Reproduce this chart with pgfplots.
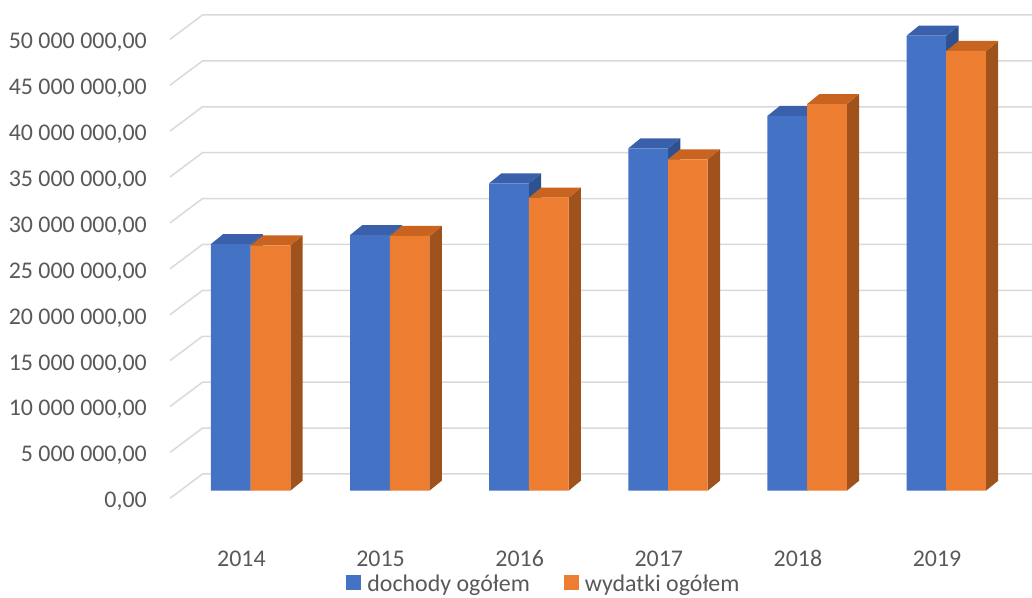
\documentclass[border=0pt]{standalone}
\usepackage{fontspec}
\setmainfont{Carlito}
\usepackage{pgfplots}
\usepackage{pgfplotstable}
\pgfplotsset{compat=1.18}

\definecolor{blueF}{HTML}{4472C4}
\definecolor{blueT}{HTML}{3A60AC}
\definecolor{blueS}{HTML}{2E5190}
\definecolor{orangeF}{HTML}{ED7D31}
\definecolor{orangeT}{HTML}{C8641F}
\definecolor{orangeS}{HTML}{A0521C}
\definecolor{gridc}{HTML}{D9D9D9}
\definecolor{txt}{HTML}{595959}

% values in millions
\pgfplotstableread{
x a b
0 26.87 26.73
1 27.85 27.75
2 33.49 31.92
3 37.30 36.10
4 40.82 42.12
5 49.56 47.90
}\data

\begin{document}
\begin{tikzpicture}
\begin{axis}[
  at={(181.1bp,107.3bp)}, anchor=south west,
  scale only axis, width=834.7bp, height=459bp,
  xmin=-0.5, xmax=5.5, ymin=0, ymax=50,
  clip=false,
  axis line style={draw=none}, major tick length=0pt,
  xtick={0,...,5}, xticklabels={2014,2015,2016,2017,2018,2019},
  ytick={0,5,...,50},
  yticklabels={{0,00},{5 000 000,00},{10 000 000,00},{15 000 000,00},{20 000 000,00},{25 000 000,00},{30 000 000,00},{35 000 000,00},{40 000 000,00},{45 000 000,00},{50 000 000,00}},
  ticklabel style={font=\fontsize{24}{29}\selectfont, text=txt, inner sep=0pt},
  xticklabel style={anchor=base, yshift=-75.3bp, xshift=-9.2bp},
  yticklabel style={anchor=base east, xshift=-34.1bp, yshift=-17bp},
  legend columns=2,
  legend style={draw=none, at={(0.4347,-0.2033)}, anchor=center,
    font=\fontsize{24}{29}\selectfont, text=txt,
    /tikz/every odd column/.append style={column sep=4bp},
    /tikz/every even column/.append style={column sep=32bp}},
  legend image code/.code={\fill[#1] (0bp,-6bp) rectangle (15bp,9bp);},
]
% floor-to-back-wall gridlines
\pgfplotsinvokeforeach{0,5,...,50}{
  \draw[gridc, line width=1.5bp] ([xshift=-11.1bp,yshift=-7.6bp]axis cs:-0.5,#1)
    -- ([xshift=21.4bp,yshift=16.7bp]axis cs:-0.5,#1)
    -- ([xshift=852bp,yshift=16.7bp]axis cs:-0.5,#1);
}
% blue bars: side and top
\pgfplotsinvokeforeach{0,...,5}{
  \pgfplotstablegetelem{#1}{a}\of\data
  \edef\temp{
    \noexpand\fill[blueS] (axis cs:#1,0) -- ([xshift=12.3bp,yshift=10bp]axis cs:#1,0)
      -- ([xshift=12.3bp,yshift=10bp]axis cs:#1,\pgfplotsretval) -- (axis cs:#1,\pgfplotsretval) -- cycle;
    \noexpand\fill[blueT] ([xshift=-39.7bp]axis cs:#1,\pgfplotsretval) -- (axis cs:#1,\pgfplotsretval)
      -- ([xshift=12.3bp,yshift=10bp]axis cs:#1,\pgfplotsretval) -- ([xshift=-27.4bp,yshift=10bp]axis cs:#1,\pgfplotsretval) -- cycle;
  }
  \temp
}
\addplot[ybar, bar width=39.7bp, bar shift=-19.85bp, fill=blueF, draw=none] table[x=x, y=a] {\data};
\addlegendentry{dochody ogółem}
% orange bars: side and top
\pgfplotsinvokeforeach{0,...,5}{
  \pgfplotstablegetelem{#1}{b}\of\data
  \edef\temp{
    \noexpand\fill[orangeS] ([xshift=39.7bp]axis cs:#1,0) -- ([xshift=52bp,yshift=10bp]axis cs:#1,0)
      -- ([xshift=52bp,yshift=10bp]axis cs:#1,\pgfplotsretval) -- ([xshift=39.7bp]axis cs:#1,\pgfplotsretval) -- cycle;
    \noexpand\fill[orangeT] (axis cs:#1,\pgfplotsretval) -- ([xshift=39.7bp]axis cs:#1,\pgfplotsretval)
      -- ([xshift=52bp,yshift=10bp]axis cs:#1,\pgfplotsretval) -- ([xshift=12.3bp,yshift=10bp]axis cs:#1,\pgfplotsretval) -- cycle;
  }
  \temp
}
\addplot[ybar, bar width=39.7bp, bar shift=19.85bp, fill=orangeF, draw=none] table[x=x, y=b] {\data};
\addlegendentry{wydatki ogółem}
\end{axis}
\pgfresetboundingbox
\path[use as bounding box] (0,0) rectangle (1032bp,598bp);
\end{tikzpicture}
\end{document}
